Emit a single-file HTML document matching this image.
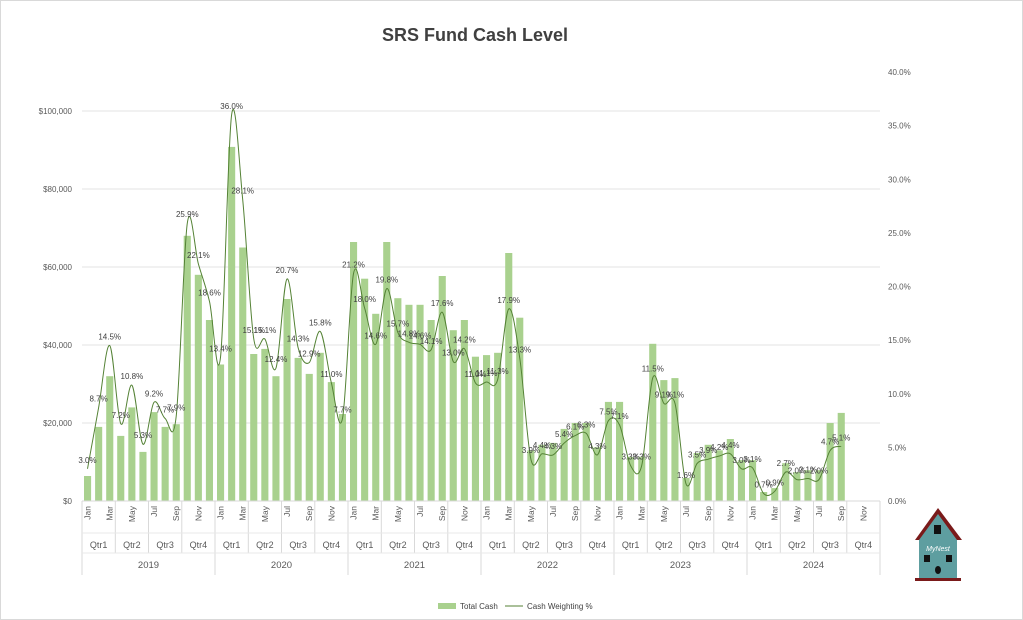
<!DOCTYPE html>
<html><head><meta charset="utf-8"><style>
html,body{margin:0;padding:0;background:#fff;}
svg{display:block;font-family:"Liberation Sans",sans-serif;}
</style></head><body>
<svg id="c" width="1023" height="620" viewBox="0 0 1023 620" xmlns="http://www.w3.org/2000/svg">
<rect x="0" y="0" width="1023" height="620" fill="#fff"/>
<rect x="0.5" y="0.5" width="1022" height="619" fill="none" stroke="#d9d9d9"/>
<text x="475" y="41" text-anchor="middle" font-size="18" font-weight="bold" fill="#404040">SRS Fund Cash Level</text>
<g id="g"></g>
<g>
<polygon points="915,540 938,508 962,540" fill="#7a1a1a"/>
<polygon points="919,540 938,514 957,540 957,578 919,578" fill="#5e9ea0"/>
<rect x="915" y="578" width="46" height="3" fill="#7a1a1a"/>
<rect x="934" y="525" width="7" height="9" fill="#111"/>
<text x="938" y="551" text-anchor="middle" font-size="7" font-style="italic" fill="#fff">MyNest</text>
<rect x="924" y="555" width="6" height="7" fill="#111"/>
<rect x="946" y="555" width="6" height="7" fill="#111"/>
<ellipse cx="938" cy="570" rx="3" ry="4" fill="#111"/>
</g>
<rect x="438" y="603" width="18" height="6" fill="#a9d18e"/>
<text x="460" y="609" font-size="8" fill="#404040">Total Cash</text>
<line x1="505" y1="606" x2="523" y2="606" stroke="#548235" stroke-width="1"/>
<text x="527" y="609" font-size="8" fill="#404040">Cash Weighting %</text>
</svg>
<script>
var cash=[6.4,19,32,16.7,24,12.6,22.8,19,19.7,68,58,46.4,
35,90.8,65,37.7,39,32,51.8,36.7,32.6,38,30.5,22.3,
66.4,57,48,66.4,52,50.3,50.3,46.4,57.7,43.8,46.4,37,
37.4,38,63.6,47,13,14.4,14.9,18.5,20,20,13.8,25.4,
25.4,11.3,11.3,40.3,31,31.5,5.9,12.3,14.4,13,15.9,10.5,
10.5,2.3,3.3,9.7,7.4,7.9,7.9,20,22.6];
var pct=[3.0,8.7,14.5,7.2,10.8,5.3,9.2,7.7,7.9,25.9,22.1,18.6,
13.4,36.0,28.1,15.1,15.1,12.4,20.7,14.3,12.9,15.8,11.0,7.7,
21.2,18.0,14.6,19.8,15.7,14.8,14.6,14.1,17.6,13.0,14.2,11.0,
11.1,11.3,17.9,13.3,3.9,4.4,4.3,5.4,6.1,6.3,4.3,7.5,
7.1,3.3,3.3,11.5,9.1,9.1,1.6,3.5,3.9,4.2,4.4,3.0,
3.1,0.7,0.9,2.7,2.0,2.1,2.0,4.7,5.1];
var L=82,R=880,B=501,W=(R-L)/72;
var s='';
function yc(v){return B-v*3.9;}
function yp(v){return B-v*10.725;}
for(var i=0;i<=5;i++){var y=B-i*78;
 if(i>0)s+='<line x1="'+L+'" y1="'+y+'" x2="'+R+'" y2="'+y+'" stroke="#e3e3e3"/>';
 s+='<text x="72" y="'+(y+3)+'" text-anchor="end" font-size="8" fill="#595959">'+(i==0?'$0':'$'+(i*20)+',000')+'</text>';}
for(var i=0;i<=8;i++){var y=B-i*5*10.725;
 s+='<text x="888" y="'+(y+3)+'" font-size="8" fill="#595959">'+(i*5)+'.0%</text>';}
for(var i=0;i<cash.length;i++){var x=L+W*i+W*0.18;var y=yc(cash[i]);
 s+='<rect x="'+x.toFixed(1)+'" y="'+y.toFixed(1)+'" width="'+(W*0.64).toFixed(1)+'" height="'+(B-y).toFixed(1)+'" fill="#a9d18e"/>';}
s+='<line x1="'+L+'" y1="'+B+'" x2="'+R+'" y2="'+B+'" stroke="#d9d9d9"/>';
var mn=['Jan','Mar','May','Jul','Sep','Nov'];
for(var i=0;i<72;i+=2){var cx=L+W*(i+0.5);
 s+='<text transform="translate('+(cx+3)+',506) rotate(-90)" text-anchor="end" font-size="8.5" fill="#595959">'+mn[(i%12)/2]+'</text>';}
for(var q=0;q<=24;q++){var x=L+W*3*q;var bot=(q%4==0)?575:553;
 s+='<line x1="'+x.toFixed(1)+'" y1="'+B+'" x2="'+x.toFixed(1)+'" y2="'+bot+'" stroke="#d9d9d9"/>';
 if(q<24)s+='<text x="'+(x+W*1.5).toFixed(1)+'" y="548" text-anchor="middle" font-size="9" fill="#595959">Qtr'+(q%4+1)+'</text>';}
s+='<line x1="'+L+'" y1="533" x2="'+R+'" y2="533" stroke="#e8e8e8"/>';
s+='<line x1="'+L+'" y1="553" x2="'+R+'" y2="553" stroke="#e8e8e8"/>';
for(var yr=0;yr<6;yr++){s+='<text x="'+(L+W*12*yr+W*6).toFixed(1)+'" y="568" text-anchor="middle" font-size="9.5" fill="#595959">'+(2019+yr)+'</text>';}
var P=pct.map(function(v,i){return [L+W*(i+0.5),yp(v)];});
var d='M'+P[0][0].toFixed(1)+','+P[0][1].toFixed(1);
for(var i=0;i<P.length-1;i++){var p0=P[i-1]||P[i],p1=P[i],p2=P[i+1],p3=P[i+2]||P[i+1];
 var c1=[p1[0]+(p2[0]-p0[0])/6,p1[1]+(p2[1]-p0[1])/6],c2=[p2[0]-(p3[0]-p1[0])/6,p2[1]-(p3[1]-p1[1])/6];
 d+=' C'+c1[0].toFixed(1)+','+c1[1].toFixed(1)+' '+c2[0].toFixed(1)+','+c2[1].toFixed(1)+' '+p2[0].toFixed(1)+','+p2[1].toFixed(1);}
s+='<path d="'+d+'" fill="none" stroke="#548235" stroke-width="1"/>';
for(var i=0;i<P.length;i++){
 s+='<text x="'+P[i][0].toFixed(1)+'" y="'+(P[i][1]-6).toFixed(1)+'" text-anchor="middle" font-size="8" fill="#404040">'+pct[i].toFixed(1)+'%</text>';}
document.getElementById('g').innerHTML=s;
</script>
</body></html>
